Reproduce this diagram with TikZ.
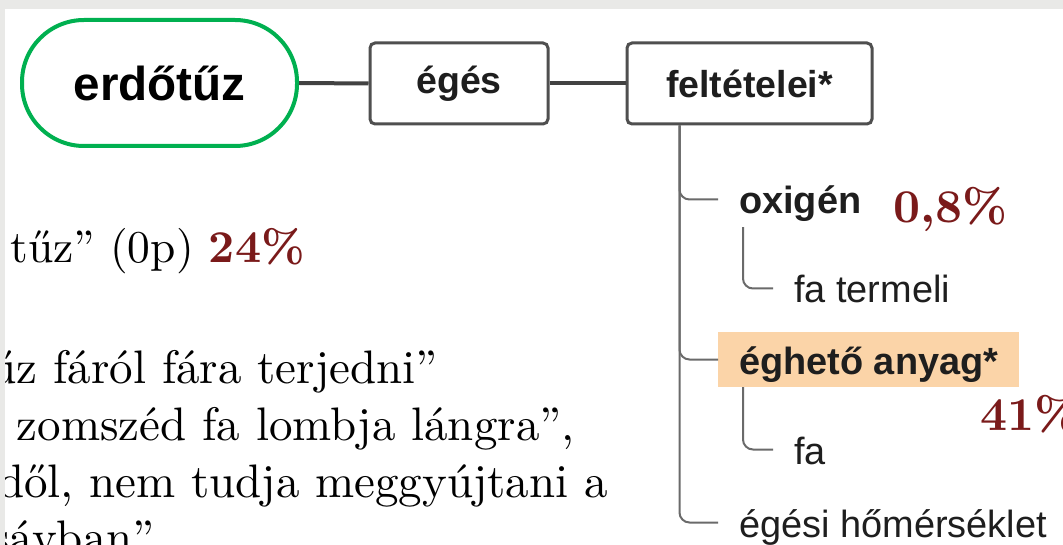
\documentclass[tikz,border=0pt]{standalone}
\usepackage{fontspec}
\newfontfamily\arialf{Liberation Sans}
\newfontfamily\serifw{lmroman10-regular.otf}[BoldFont=lmroman10-bold.otf]
\definecolor{pct}{HTML}{7A1A1A}
\definecolor{grn}{HTML}{00B050}
\definecolor{boxln}{HTML}{4F4F4F}
\definecolor{linkln}{HTML}{424242}
\definecolor{treeln}{HTML}{6A6A6A}
\definecolor{peach}{HTML}{FBD4A8}
\definecolor{framecol}{HTML}{E9E9E7}
\definecolor{txt}{HTML}{1E1E1E}
\begin{document}
\begin{tikzpicture}[x=1pt,y=-1pt,
 pill/.style={draw=grn, line width=4pt, rounded corners=62pt, minimum width=275pt, minimum height=126pt, inner sep=0pt, font=\arialf\bfseries\fontsize{47.6}{50}\selectfont, text=black},
 topbox/.style={draw=boxln, line width=3pt, rounded corners=5pt, minimum height=81pt, inner sep=0pt, font=\arialf\bfseries\fontsize{37.5}{40}\selectfont, text=txt},
 link/.style={draw=linkln, line width=4pt},
 leaf/.style={anchor=base west, inner xsep=21pt, inner ysep=0pt, text height=42pt, text depth=13pt, font=\arialf\fontsize{37.9}{40}\selectfont, text=txt},
 leafb/.style={leaf, font=\arialf\bfseries\fontsize{37.9}{40}\selectfont},
 twig/.style={draw=treeln, line width=2pt, rounded corners=10pt},
 body/.style={anchor=base east, inner sep=0pt, font=\serifw\fontsize{47}{57}\selectfont, text=black},
 pctx/.style={anchor=base west, inner sep=0pt, font=\serifw\bfseries\fontsize{47}{50}\selectfont, text=pct}
]
\clip (0,0) rectangle (1063,545);
\fill[white] (0,0) rectangle (1063,545);

% left body text (cut off at the left)
\node[body, font=\serifw\fontsize{45.5}{57}\selectfont] (l1) at (305,263) {a tűz” (0p) {\bfseries\color{pct}24\%}};
\node[body] (l2) at (438,383) {űz fáról fára terjedni”};
\node[body] (l3) at (575,440) {zomszéd fa lombja lángra”,};
\node[body] (l4) at (608,497) {dől, nem tudja meggyújtani a};
\node[body] (l5) at (155,553) {sávban”};

% top row
\node[pill] (erd) at (159.5,83) {erdőtűz};
\node[topbox, minimum width=178pt] (eges) at (459,83.5) {égés};
\node[topbox, minimum width=245pt] (felt) at (749.5,83.5) {feltételei*};
\draw[link] (erd.east) -- (eges.west);
\draw[link] (eges.east) -- (felt.west);

% tree
\node[leafb] (oxi) at (718,214) {oxigén};
\node[leaf] (fat) at (773,303) {fa termeli};
\node[leafb, fill=peach] (egh) at (718,374) {éghető anyag*};
\node[leaf] (fa) at (773,464) {fa};
\node[leaf] (hom) at (718,537) {égési hőmérséklet};

\coordinate (trunk) at ([xshift=54pt]felt.south west);
\draw[twig] (trunk) |- (oxi.west);
\draw[twig] (trunk) |- (egh.west);
\draw[twig] (trunk) |- (hom.west);
\draw[twig] ([xshift=25pt]oxi.south west) |- (fat.west);
\draw[twig] ([xshift=25pt]egh.south west) |- (fa.west);

% percentages
\node[pctx] (p08) at (893,223) {0,8\%};
\node[pctx] (p41) at (980,430) {41\%};

% slide frame
\fill[framecol] (0,0) rectangle (1063,9);
\fill[framecol] (0,0) rectangle (5,545);
\end{tikzpicture}
\end{document}
